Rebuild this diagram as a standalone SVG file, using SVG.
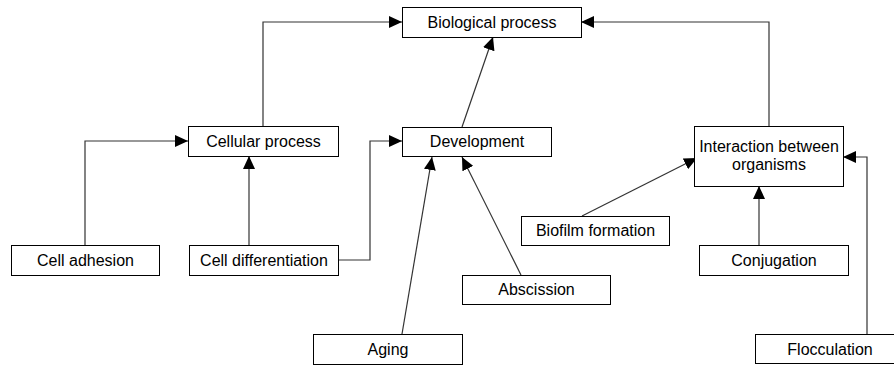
<svg xmlns="http://www.w3.org/2000/svg" width="894" height="366" viewBox="0 0 894 366">
  <style>
    .box { fill: #ffffff; stroke: #000000; stroke-width: 1; }
    .label { font-family: "Liberation Sans", Arial, sans-serif; font-size: 16px; fill: #000000; text-anchor: middle; }
    .edge { fill: none; stroke: #333333; stroke-width: 1.2; marker-end: url(#arrow); }
  </style>
  <defs>
    <marker id="arrow" markerUnits="userSpaceOnUse" viewBox="0 0 13 12" markerWidth="13" markerHeight="12" refX="13" refY="6" orient="auto">
      <path d="M0,0 L13,6 L0,12 z" fill="#000000"/>
    </marker>
  </defs>
  <rect width="894" height="366" fill="#ffffff"/>

  <g id="connectors">
    <!-- Cellular process -> Biological process -->
    <polyline class="edge" points="263,126 263,22 402,22"/>
    <!-- Development -> Biological process -->
    <line class="edge" x1="462" y1="127" x2="493" y2="37"/>
    <!-- Interaction between organisms -> Biological process -->
    <polyline class="edge" points="769,126 769,22 581,22"/>
    <!-- Cell adhesion -> Cellular process -->
    <polyline class="edge" points="85,245 85,141 188,141"/>
    <!-- Cell differentiation -> Cellular process -->
    <line class="edge" x1="249" y1="245" x2="249" y2="156"/>
    <!-- Cell differentiation -> Development -->
    <polyline class="edge" points="338,260 370,260 370,141 402,141"/>
    <!-- Aging -> Development -->
    <line class="edge" x1="402" y1="334" x2="432" y2="157"/>
    <!-- Abscission -> Development -->
    <line class="edge" x1="521" y1="275" x2="462" y2="157"/>
    <!-- Biofilm formation -> Interaction between organisms -->
    <line class="edge" x1="582" y1="216" x2="697" y2="158"/>
    <!-- Conjugation -> Interaction between organisms -->
    <line class="edge" x1="759" y1="245" x2="759" y2="186"/>
    <!-- Flocculation -> Interaction between organisms -->
    <polyline class="edge" points="867,334 867,157 843,157"/>
  </g>

  <g id="biological-process">
    <rect class="box" x="402.5" y="7.5" width="179" height="30"/>
    <text class="label" x="492" y="28">Biological process</text>
  </g>
  <g id="cellular-process">
    <rect class="box" x="188.5" y="126.5" width="150" height="30"/>
    <text class="label" x="263.5" y="147">Cellular process</text>
  </g>
  <g id="development">
    <rect class="box" x="402.5" y="127.5" width="149" height="29"/>
    <text class="label" x="477" y="147">Development</text>
  </g>
  <g id="interaction-between-organisms">
    <rect class="box" x="694.5" y="126.5" width="149" height="60"/>
    <text class="label" x="769" y="152">Interaction between</text>
    <text class="label" x="769" y="170">organisms</text>
  </g>
  <g id="cell-adhesion">
    <rect class="box" x="11.5" y="245.5" width="148" height="30"/>
    <text class="label" x="85.5" y="266">Cell adhesion</text>
  </g>
  <g id="cell-differentiation">
    <rect class="box" x="189.5" y="245.5" width="149" height="30"/>
    <text class="label" x="264" y="266">Cell differentiation</text>
  </g>
  <g id="biofilm-formation">
    <rect class="box" x="521.5" y="216.5" width="148" height="29"/>
    <text class="label" x="595.5" y="236">Biofilm formation</text>
  </g>
  <g id="conjugation">
    <rect class="box" x="699.5" y="245.5" width="149" height="30"/>
    <text class="label" x="774" y="266">Conjugation</text>
  </g>
  <g id="abscission">
    <rect class="box" x="462.5" y="275.5" width="148" height="29"/>
    <text class="label" x="536.5" y="295">Abscission</text>
  </g>
  <g id="aging">
    <rect class="box" x="313.5" y="334.5" width="149" height="30"/>
    <text class="label" x="388" y="355">Aging</text>
  </g>
  <g id="flocculation">
    <rect class="box" x="755.5" y="334.5" width="150" height="29"/>
    <text class="label" x="830" y="355">Flocculation</text>
  </g>
</svg>
